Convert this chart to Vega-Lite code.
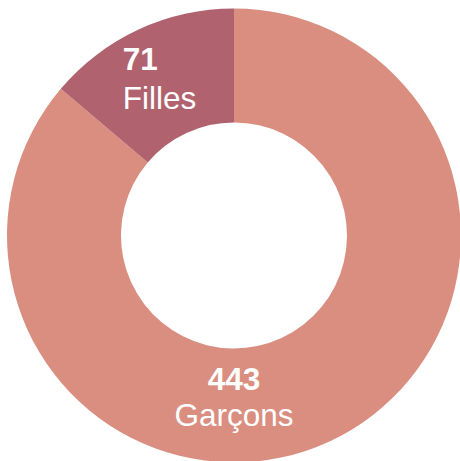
{
  "$schema": "https://vega.github.io/schema/vega-lite/v6.json",
  "width": 468,
  "height": 471,
  "autosize": {"type": "none"},
  "padding": {"left": 0, "top": 0, "right": 0, "bottom": 0},
  "background": "white",
  "view": {"stroke": null},
  "data": {
    "values": [
      {"category": "Garçons", "value": 443},
      {"category": "Filles", "value": 71}
    ]
  },
  "layer": [
    {
      "mark": {"type": "arc", "outerRadius": 227, "innerRadius": 113},
      "encoding": {
        "theta": {"field": "value", "type": "quantitative", "stack": true},
        "order": {"field": "value", "type": "quantitative", "sort": "descending"},
        "color": {
          "field": "category",
          "type": "nominal",
          "scale": {"domain": ["Garçons", "Filles"], "range": ["#D98E80", "#B0636F"]},
          "legend": null
        }
      }
    },
    {
      "mark": {"type": "text", "radius": 172, "align": "left", "baseline": "alphabetic", "dx": -39, "dy": -9, "font": "Liberation Sans", "fontSize": 31.5, "fontWeight": "bold", "color": "white"},
      "encoding": {
        "theta": {"field": "value", "type": "quantitative", "stack": true},
        "order": {"field": "value", "type": "quantitative", "sort": "descending"},
        "text": {"condition": {"test": "datum.category === 'Filles'", "field": "value", "type": "quantitative"}, "value": ""}
      }
    },
    {
      "mark": {"type": "text", "radius": 172, "align": "left", "baseline": "alphabetic", "dx": -39, "dy": 29.5, "font": "Liberation Sans", "fontSize": 31.5, "color": "white"},
      "encoding": {
        "theta": {"field": "value", "type": "quantitative", "stack": true},
        "order": {"field": "value", "type": "quantitative", "sort": "descending"},
        "text": {"condition": {"test": "datum.category === 'Filles'", "field": "category", "type": "nominal"}, "value": ""}
      }
    },
    {
      "transform": [{"filter": "datum.category === 'Garçons'"}],
      "mark": {"type": "text", "radius": 162, "theta": 3.14159265, "align": "center", "baseline": "alphabetic", "dy": -7.5, "font": "Liberation Sans", "fontSize": 31.5, "fontWeight": "bold", "color": "white"},
      "encoding": {
        "text": {"field": "value", "type": "quantitative"}
      }
    },
    {
      "transform": [{"filter": "datum.category === 'Garçons'"}],
      "mark": {"type": "text", "radius": 162, "theta": 3.14159265, "align": "center", "baseline": "alphabetic", "dy": 28.5, "font": "Liberation Sans", "fontSize": 31.5, "color": "white"},
      "encoding": {
        "text": {"field": "category", "type": "nominal"}
      }
    }
  ]
}
